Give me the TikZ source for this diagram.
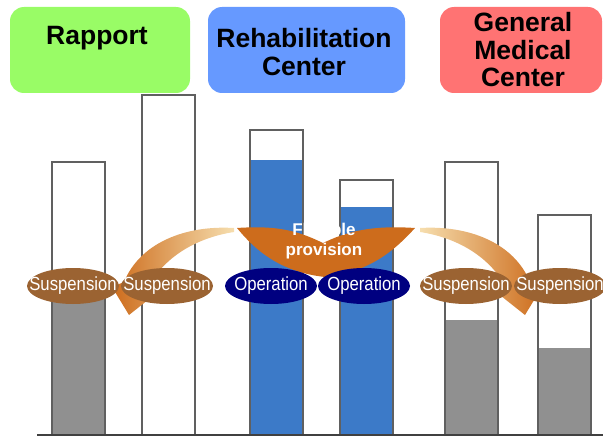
\documentclass[tikz,border=0pt]{standalone}
\usepackage{fontspec}
\setmainfont{Liberation Sans}
\newfontfamily\narrowfont{Liberation Sans}[FakeStretch=0.88]
\usetikzlibrary{shapes.geometric}
\definecolor{hdgreen}{RGB}{153,252,102}
\definecolor{hdblue}{RGB}{102,153,255}
\definecolor{hdred}{RGB}{255,115,115}
\definecolor{barline}{RGB}{96,96,96}
\definecolor{barblue}{RGB}{60,122,200}
\definecolor{bargray}{RGB}{144,144,144}
\definecolor{tagbrown}{RGB}{155,99,50}
\definecolor{tagnavy}{RGB}{0,0,128}
\definecolor{arrorange}{RGB}{205,108,28}
\definecolor{arrlight}{RGB}{242,208,140}
\begin{document}
\begin{tikzpicture}[x=1pt,y=-1pt,
  headbox/.style={rounded corners=14pt},
  headtext/.style={font=\fontsize{26.5}{27.5}\selectfont\bfseries, align=center, text=black, inner sep=0pt},
  bar/.style={draw=barline, line width=1.8pt},
  tag/.style={ellipse, minimum width=92pt, minimum height=36pt, inner sep=0pt},
  tagtext/.style={inner sep=0pt, text=white, font=\narrowfont\fontsize{19}{20}\selectfont},
  susp/.style={tag, fill=tagbrown},
  oper/.style={tag, fill=tagnavy},
]
\useasboundingbox (0,0) rectangle (603,436);

% header boxes
\fill[hdgreen, headbox] (10,7) rectangle (190,93);
\fill[hdblue, headbox] (208,7) rectangle (405,93);
\fill[hdred, headbox] (440,7) rectangle (602,93);
\node[headtext] (rapport) at (97,38) {Rapport};
\node[headtext] (rehab) at (304,52) {Rehabilitation\\Center};
\node[headtext] (general) at (523,50) {General\\Medical\\Center};

% bars: fills first, then outlines
\fill[bargray] (52,295) rectangle (105,435);
\fill[barblue] (250,160) rectangle (303,435);
\fill[barblue] (340,207) rectangle (393,435);
\fill[bargray] (445,320) rectangle (498,435);
\fill[bargray] (538,348) rectangle (591,435);
\draw[bar] (52,162) rectangle (105,435);
\draw[bar] (142,95) rectangle (195,435);
\draw[bar] (250,130) rectangle (303,435);
\draw[bar] (340,180) rectangle (393,435);
\draw[bar] (445,162) rectangle (498,435);
\draw[bar] (538,215) rectangle (591,435);
\draw[line width=2pt, black!75] (37,435) -- (603,435);

% curved transfer arrows
\shade[left color=arrorange, middle color=arrorange!80!arrlight, right color=arrlight!70!white]
  (234,228) .. controls (185,225) and (140,243) .. (124,282)
  -- (112,287) -- (129,315) -- (158,292) -- (147,289)
  .. controls (163,258) and (195,238) .. (234,232) -- cycle;
\shade[right color=arrorange, middle color=arrorange!80!arrlight, left color=arrlight!70!white]
  (420,228) .. controls (469,225) and (514,243) .. (530,282)
  -- (542,287) -- (525,315) -- (496,292) -- (507,289)
  .. controls (491,258) and (459,238) .. (420,232) -- cycle;

% central flexible provision shape
\fill[arrorange]
  (237,228) .. controls (280,225) and (300,232) .. (323,243)
  .. controls (346,232) and (370,225) .. (415,228)
  .. controls (395,250) and (370,272) .. (325,277)
  .. controls (280,272) and (255,250) .. (237,228) -- cycle;
\node[text=white, font=\fontsize{17}{20}\selectfont\bfseries, align=center, inner sep=0pt]
  (flex) at (324,241) {Flexible\\provision};

% status tags
\node[susp] (s1) at (73,286) {};
\node[susp] (s2) at (167,286) {};
\node[oper] (o1) at (271,286) {};
\node[oper] (o2) at (364,286) {};
\node[susp] (s3) at (466,286) {};
\node[susp] (s4) at (560,286) {};
\node[tagtext] at (s1) {Suspension};
\node[tagtext] at (s2) {Suspension};
\node[tagtext] at (o1) {Operation};
\node[tagtext] at (o2) {Operation};
\node[tagtext] at (s3) {Suspension};
\node[tagtext] at (s4) {Suspension};
\end{tikzpicture}
\end{document}
